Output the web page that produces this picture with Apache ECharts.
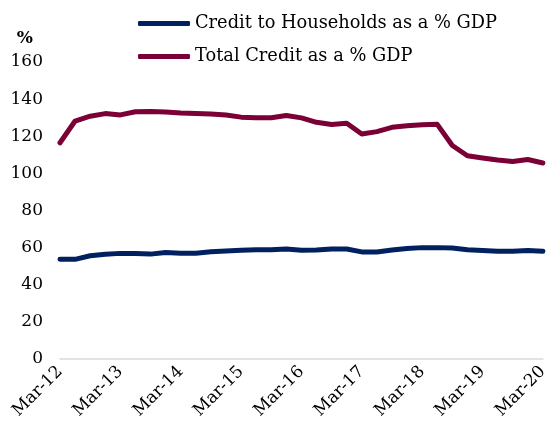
<!DOCTYPE html>
<html><head><meta charset="utf-8">
<script src="https://cdn.jsdelivr.net/npm/echarts@6/dist/echarts.min.js"></script>
<style>html,body{margin:0;padding:0;background:#fff}#c{width:551px;height:429px}</style>
</head><body><div id="c"></div>
<script>
var categories = ['Mar-12','Jun-12','Sep-12','Dec-12','Mar-13','Jun-13','Sep-13','Dec-13','Mar-14','Jun-14','Sep-14','Dec-14','Mar-15','Jun-15','Sep-15','Dec-15','Mar-16','Jun-16','Sep-16','Dec-16','Mar-17','Jun-17','Sep-17','Dec-17','Mar-18','Jun-18','Sep-18','Dec-18','Mar-19','Jun-19','Sep-19','Dec-19','Mar-20'];
var households = [53.8,53.7,55.6,56.4,56.9,56.9,56.5,57.4,57.0,57.0,57.8,58.2,58.6,58.9,58.9,59.3,58.6,58.7,59.2,59.3,57.7,57.6,58.7,59.5,60.0,60.0,59.8,58.9,58.4,58.0,58.0,58.5,58.0];
var totalCredit = [116.5,128.2,130.8,132.2,131.5,133.2,133.3,133.0,132.5,132.2,132.0,131.5,130.3,130.0,130.0,131.2,129.9,127.5,126.3,127.0,121.2,122.5,124.8,125.6,126.2,126.4,115.0,109.5,108.3,107.2,106.4,107.5,105.6];
var yTicks = [0,20,40,60,80,100,120,140,160];
var seriesNames = ['Credit to Households as a % GDP','Total Credit as a % GDP'];
var colors = ['#002060','#7a0035'];
var FONT = 'DejaVu Serif';

var chart = echarts.init(document.getElementById('c'), null, {renderer:'canvas'});
chart.setOption({
  animation:false,
  color: colors,
  textStyle:{fontFamily:FONT},
  legend:{
    orient:'vertical', left:133, top:8, padding:5,
    icon:'roundRect', itemWidth:52, itemHeight:5, itemGap:12,
    textStyle:{fontFamily:FONT, fontSize:17.8, color:'#000', lineHeight:21},
    data: seriesNames
  },
  grid:{left:60, right:3, top:62, bottom:70, containLabel:false},
  xAxis:{
    type:'category', data:categories, boundaryGap:false,
    axisLine:{show:true, lineStyle:{color:'#d9d9d9', width:1.5}},
    axisTick:{show:false},
    axisLabel:{interval:3, rotate:45, fontFamily:FONT, fontSize:17, color:'#000', margin:10}
  },
  yAxis:{
    type:'value', min:yTicks[0], max:yTicks[yTicks.length-1], interval:20,
    name:'%', nameLocation:'end', nameGap:15,
    nameTextStyle:{fontFamily:FONT, fontSize:17, color:'#000', fontWeight:'bold', align:'right', padding:[0,27,0,0]},
    axisLine:{show:false}, axisTick:{show:false}, splitLine:{show:false},
    axisLabel:{fontFamily:FONT, fontSize:17, color:'#000', margin:17}
  },
  series:[
    {name:seriesNames[0], type:'line', data:households, showSymbol:false, symbol:'none',
     lineStyle:{width:5, color:colors[0], cap:'round', join:'round'}},
    {name:seriesNames[1], type:'line', data:totalCredit, showSymbol:false, symbol:'none',
     lineStyle:{width:5, color:colors[1], cap:'round', join:'round'}}
  ]
});
</script></body></html>
